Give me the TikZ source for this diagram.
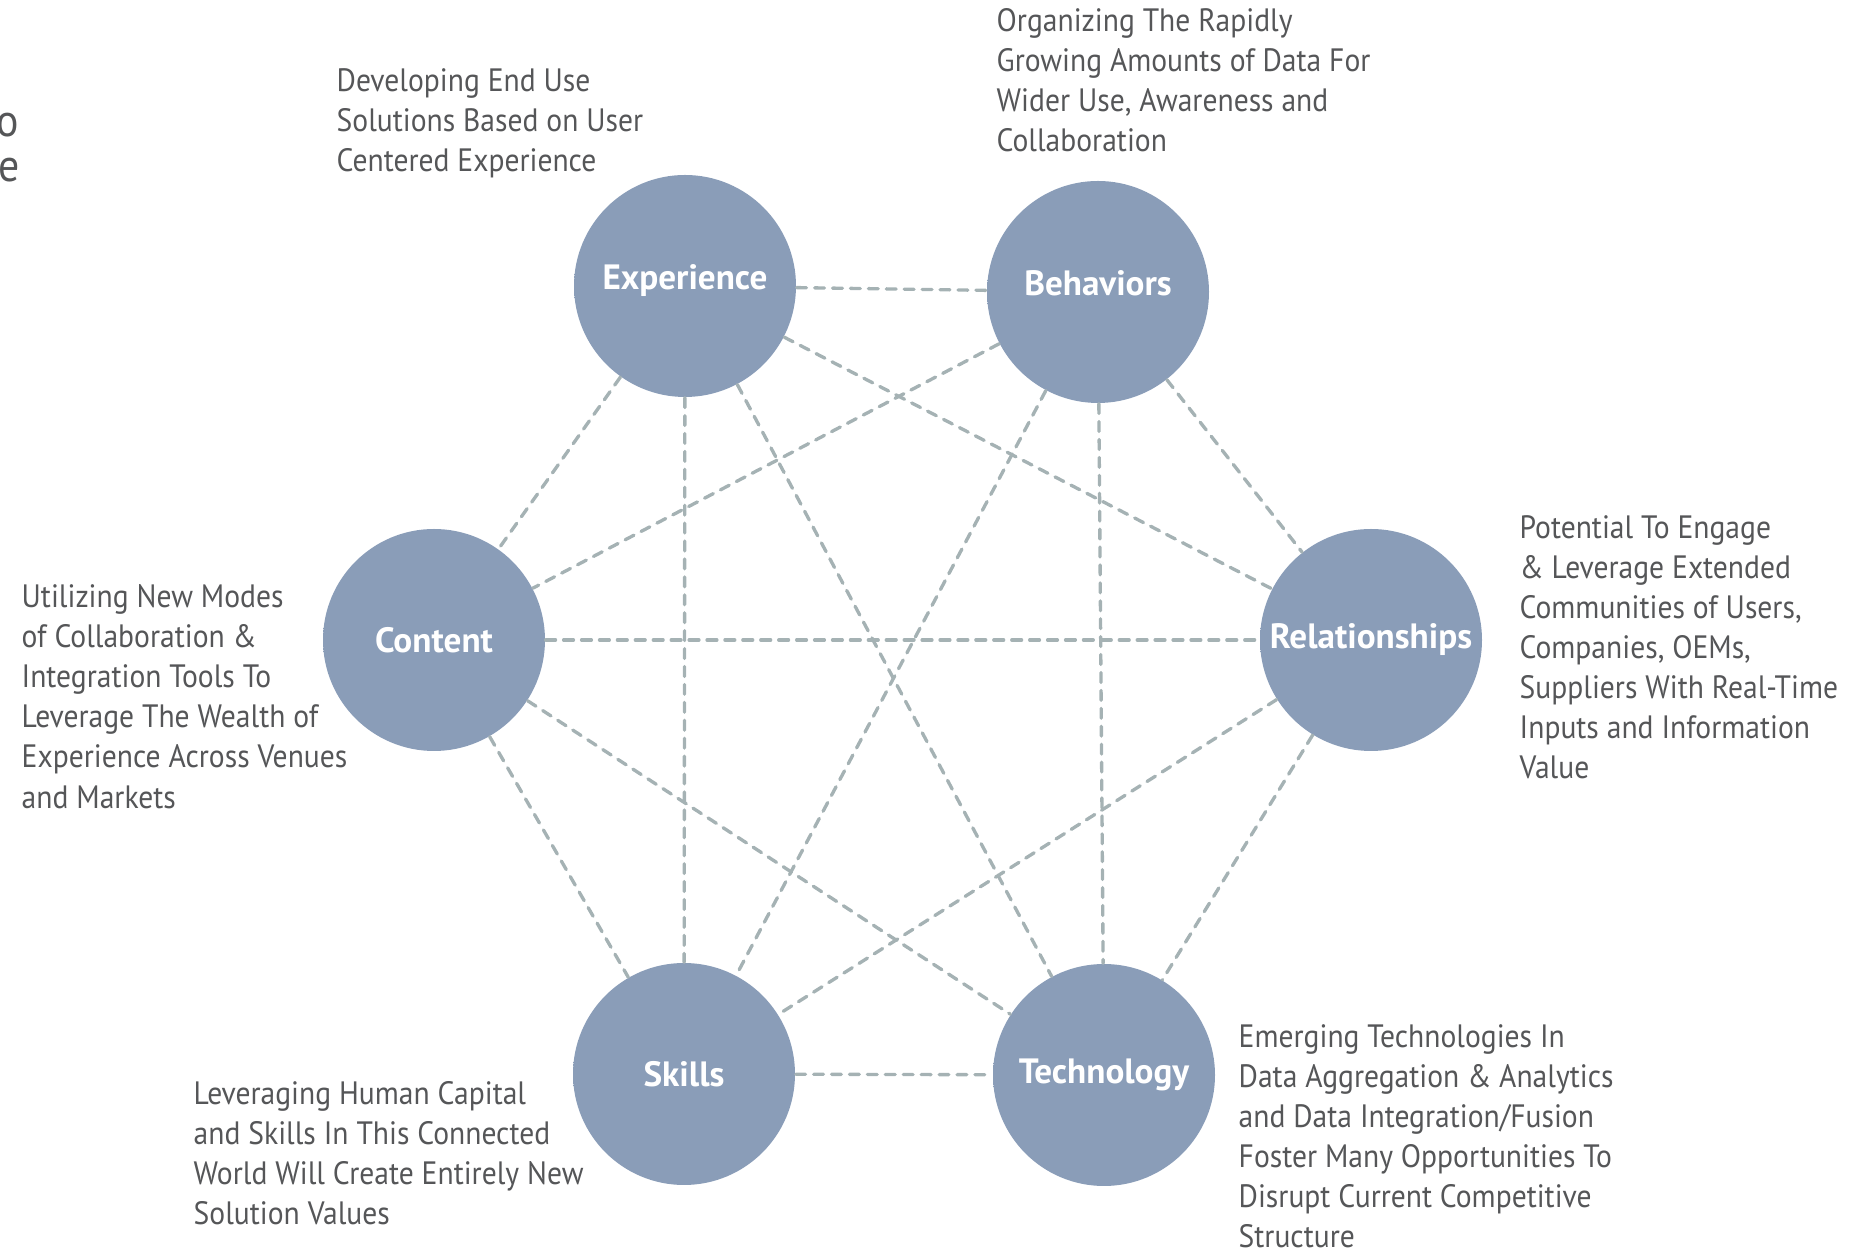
\documentclass[tikz,border=0pt]{standalone}
\usepackage{fontspec}
\setmainfont{PT Sans}[FakeStretch=0.915]
\newfontfamily\ballfont{PT Sans}
\usepackage{tikz}
\usepackage{xcolor}

\definecolor{ballblue}{RGB}{138,157,184}
\definecolor{linkgray}{RGB}{165,178,180}
\definecolor{notegray}{RGB}{85,86,88}

\pgfdeclareradialshading{softball}{\pgfpoint{0bp}{0bp}}{%
  color(0bp)=(ballblue); color(34bp)=(ballblue);
  color(42bp)=(ballblue!75!white); color(47bp)=(ballblue!32!white);
  color(50bp)=(white)}

\tikzset{
  ball/.style={circle, minimum size=22.2mm, inner sep=0pt, shading=softball,
    text=white, font=\ballfont\fontsize{10}{11}\selectfont\bfseries},
  ballhigh/.style={text height=7pt, text depth=5pt},
  link/.style={draw=linkgray, line width=0.95pt, line cap=round,
    dash pattern=on 2.8pt off 2.3pt},
  note/.style={anchor=north west, inner sep=0pt, align=left, text=notegray,
    font=\fontsize{9.2}{11.4}\selectfont}
}

\begin{document}
\begin{tikzpicture}[x=0.1mm, y=-0.1mm]
  \useasboundingbox (0,0) rectangle (1857,1253);

  % Cut-off heading at the left edge
  \node[anchor=north east, inner sep=0pt, align=right, text=notegray,
    font=\fontsize{13}{12.8}\selectfont] (cutnote) at (20,112) {o\\e};

  % Circles
  \node[ball, ballhigh] (exp) at (685,286) {Experience};
  \node[ball, ballhigh] (beh) at (1098,292) {Behaviors};
  \node[ball] (con) at (434,640) {Content};
  \node[ball] (rel) at (1371,640) {Relationships};
  \node[ball] (skl) at (684,1074) {Skills};
  \node[ball] (tec) at (1104,1075) {Technology};

  % Dashed links
  \draw[link] (exp) -- (beh);
  \draw[link] (exp) -- (con);
  \draw[link] (exp) -- (rel);
  \draw[link] (exp) -- (skl);
  \draw[link] (exp) -- (tec);
  \draw[link] (beh) -- (con);
  \draw[link] (beh) -- (rel);
  \draw[link] (beh) -- (skl);
  \draw[link] (beh) -- (tec);
  \draw[link] (con) -- (rel);
  \draw[link] (con) -- (skl);
  \draw[link] (con) -- (tec);
  \draw[link] (rel) -- (skl);
  \draw[link] (rel) -- (tec);
  \draw[link] (skl) -- (tec);

  % Notes
  \node[note] (expnote) at (336,68)
    {Developing End Use\\Solutions Based on User\\Centered Experience};
  \node[note] (behnote) at (996,8)
    {Organizing The Rapidly\\Growing Amounts of Data For\\Wider Use, Awareness and\\Collaboration};
  \node[note] (relnote) at (1519,515)
    {Potential To Engage\\\& Leverage Extended\\Communities of Users,\\Companies, OEMs,\\Suppliers With Real-Time\\Inputs and Information\\Value};
  \node[note] (connote) at (21,584)
    {Utilizing New Modes\\of Collaboration \&\\Integration Tools To\\Leverage The Wealth of\\Experience Across Venues\\and Markets};
  \node[note] (sklnote) at (193,1081)
    {Leveraging Human Capital\\and Skills In This Connected\\World Will Create Entirely New\\Solution Values};
  \node[note] (tecnote) at (1238,1024)
    {Emerging Technologies In\\Data Aggregation \& Analytics\\and Data Integration/Fusion\\Foster Many Opportunities To\\Disrupt Current Competitive\\Structure};
\end{tikzpicture}
\end{document}
